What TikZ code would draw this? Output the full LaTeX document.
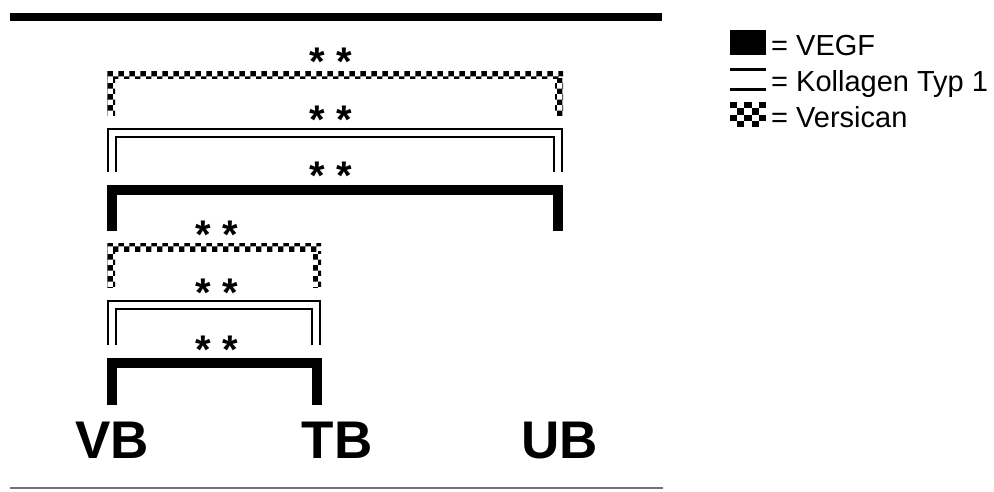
\documentclass[tikz,border=0pt]{standalone}
\usepackage{fontspec}
\setmainfont{Liberation Sans}
\usetikzlibrary{patterns}
\begin{document}
\begin{tikzpicture}[x=1pt,y=-1pt,
  vegf/.style={line width=10pt,line join=miter,line cap=butt},
  koll/.style={line width=1.6pt,line join=miter,line cap=butt},
  vers/.style={pattern=checkerboard,draw=none},
  stars/.style={anchor=base,inner sep=0pt,font=\fontsize{40}{44}\selectfont\bfseries},
  lbl/.style={anchor=base,inner sep=0pt,font=\fontsize{53}{60}\selectfont\bfseries},
  leg/.style={anchor=base west,inner sep=0pt,font=\fontsize{29}{33}\selectfont}]
\useasboundingbox (0,0) rectangle (994,491);
% top and bottom rules
\fill (10,13) rectangle (662,21);
\draw[line width=2pt,black!55] (10,488) -- (663,488);
% ---- large brackets (VB - UB)
\fill[vers] (107,71) rectangle (563,78);
\fill[vers] (107,78) rectangle (115,115);
\fill[vers] (555,78) rectangle (563,115);
\node[stars] (s1) at (330.5,75) {* *};
\draw[koll] (107.8,172) -- (107.8,128.8) -- (562.2,128.8) -- (562.2,172);
\draw[koll] (115.8,172) -- (115.8,137.2) -- (554.2,137.2) -- (554.2,172);
\node[stars] (s2) at (330.5,133) {* *};
\draw[vegf] (112,231) -- (112,190) -- (558,190) -- (558,231);
\node[stars] (s3) at (330.5,189) {* *};
% ---- small brackets (VB - TB)
\fill[vers] (107,243) rectangle (321,251);
\fill[vers] (107,251) rectangle (115,287);
\fill[vers] (313,251) rectangle (321,287);
\node[stars] (s4) at (217,248) {* *};
\draw[koll] (107.8,345) -- (107.8,300.8) -- (320.2,300.8) -- (320.2,345);
\draw[koll] (115.8,345) -- (115.8,309.2) -- (312.2,309.2) -- (312.2,345);
\node[stars] (s5) at (217,306) {* *};
\draw[vegf] (112,405) -- (112,363) -- (316.5,363) -- (316.5,405);
\node[stars] (s6) at (217,363) {* *};
% ---- labels
\node[lbl] (vb) at (112,458) {VB};
\node[lbl] (tb) at (337,458) {TB};
\node[lbl] (ub) at (560,458) {UB};
% ---- legend
\fill (730,30) rectangle (766,55);
\node[leg] (l1) at (771,55) {= VEGF};
\fill (730,67.5) rectangle (766,70.5);
\fill (730,88) rectangle (766,91);
\node[leg] (l2) at (771,91) {= Kollagen Typ 1};
\foreach \i in {0,...,4}{
  \foreach \j in {0,...,3}{
    \pgfmathparse{int(mod(\i+\j,2))}
    \ifnum\pgfmathresult=0
      \fill (730+7.2*\i,102+6.25*\j) rectangle (730+7.2*\i+7.2,102+6.25*\j+6.25);
    \fi
  }
}
\node[leg] (l3) at (771,127) {= Versican};
\end{tikzpicture}
\end{document}
